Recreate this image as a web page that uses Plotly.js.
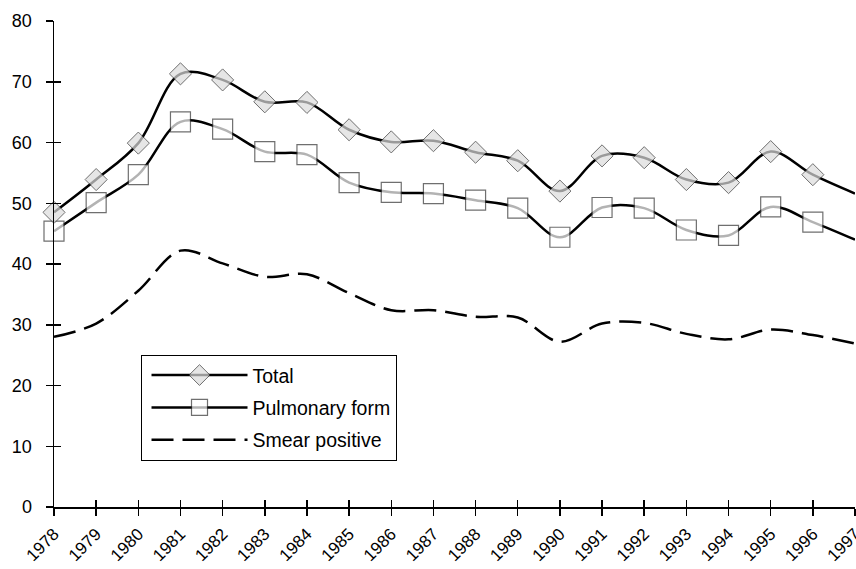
<!DOCTYPE html>
<html>
<head>
<meta charset="utf-8">
<script src="https://cdn.plot.ly/plotly-3.0.1.min.js"></script>
<style>
html,body{margin:0;padding:0;background:#fff;overflow:hidden;}
#chart{width:856px;height:569px;}
</style>
</head>
<body>
<div id="chart"></div>
<script>
var years = [1978,1979,1980,1981,1982,1983,1984,1985,1986,1987,1988,1989,1990,1991,1992,1993,1994,1995,1996,1997];
var total = [48.5,53.9,59.9,71.3,70.3,66.7,66.6,62.1,60.1,60.3,58.4,57.0,52.0,57.8,57.5,53.9,53.4,58.5,54.7,51.6];
var pulmonary = [45.4,50.1,54.7,63.4,62.2,58.5,58.0,53.4,51.8,51.6,50.5,49.2,44.4,49.3,49.2,45.6,44.7,49.4,46.9,44.0];
var smear = [28.0,30.2,35.6,42.2,40.1,37.9,38.3,35.2,32.4,32.4,31.3,31.2,27.2,30.2,30.3,28.5,27.6,29.2,28.3,26.9];
var yTicks = [0,10,20,30,40,50,60,70,80];
var seriesNames = ['Total','Pulmonary form','Smear positive'];

var last = years.length - 1;
function sizes(s){ return years.map(function(_,i){ return i === last ? 0 : s; }); }

var font = {family: 'Liberation Sans, Arial, sans-serif', color: '#000'};

var traces = [
  {
    x: years, y: smear, name: seriesNames[2], legendgroup: 'c', legendrank: 3, type: 'scatter', mode: 'lines',
    line: {color: '#000', width: 2.5, shape: 'spline', dash: '22px,9px'},
    cliponaxis: false
  },
  {
    x: years, y: pulmonary, name: seriesNames[1], legendgroup: 'b', legendrank: 2, type: 'scatter', mode: 'lines+markers',
    line: {color: '#000', width: 2.5, shape: 'spline'},
    marker: {symbol: 'square', size: sizes(20), color: '#fff', line: {color: '#333', width: 1.2}},
    cliponaxis: false
  },
  {
    x: years, y: total, name: seriesNames[0], legendgroup: 'a', legendrank: 1, type: 'scatter', mode: 'lines+markers',
    line: {color: '#000', width: 2.5, shape: 'spline'},
    marker: {symbol: 'diamond', size: sizes(17), color: '#dcdcdc', line: {color: '#333', width: 1}},
    cliponaxis: false
  },
  {
    // invisible helper trace so the overlay axes (crossing tick marks) are drawn
    x: years, y: total, xaxis: 'x2', yaxis: 'y2', type: 'scatter', mode: 'lines',
    line: {width: 0, color: 'rgba(0,0,0,0)'}, opacity: 0, showlegend: false, hoverinfo: 'skip'
  }
];

var layout = {
  width: 856, height: 569,
  margin: {l: 54, r: 1, t: 21, b: 62},
  paper_bgcolor: '#fff', plot_bgcolor: '#fff',
  font: Object.assign({size: 18}, font),
  showlegend: true,
  legend: {
    x: 0.108, y: 0.313, xanchor: 'left', yanchor: 'top',
    traceorder: 'grouped', tracegroupgap: 4,
    bordercolor: '#000', borderwidth: 1, bgcolor: '#fff',
    font: Object.assign({size: 19.5}, font),
    itemwidth: 96, indentation: 5
  },
  xaxis: {
    range: [1978, 1997], tickvals: years, ticktext: years.map(String),
    tickangle: -45, ticks: 'outside', ticklen: 7, tickcolor: '#000', tickwidth: 1.5,
    showline: true, linecolor: '#000', linewidth: 1.5, showgrid: false, zeroline: false,
    tickfont: Object.assign({size: 17}, font), ticklabelstandoff: 2, ticklabeloverflow: 'allow'
  },
  yaxis: {
    range: [0, 80], tickvals: yTicks, ticks: 'outside', ticklen: 7, tickcolor: '#000', tickwidth: 1.5,
    showline: true, linecolor: '#000', linewidth: 1.5, showgrid: false, zeroline: false,
    tickfont: Object.assign({size: 18}, font), ticklabelstandoff: 10
  },
  xaxis2: {
    overlaying: 'x', anchor: 'y2', range: [1978, 1997], tickvals: years,
    ticks: 'inside', ticklen: 7, tickcolor: '#000', tickwidth: 1.5,
    showticklabels: false, showline: false, showgrid: false, zeroline: false
  },
  yaxis2: {
    overlaying: 'y', anchor: 'x2', range: [0, 80], tickvals: yTicks,
    ticks: 'inside', ticklen: 7, tickcolor: '#000', tickwidth: 1.5,
    showticklabels: false, showline: false, showgrid: false, zeroline: false
  }
};

Plotly.newPlot('chart', traces, layout, {displayModeBar: false, staticPlot: true});
</script>
</body>
</html>
